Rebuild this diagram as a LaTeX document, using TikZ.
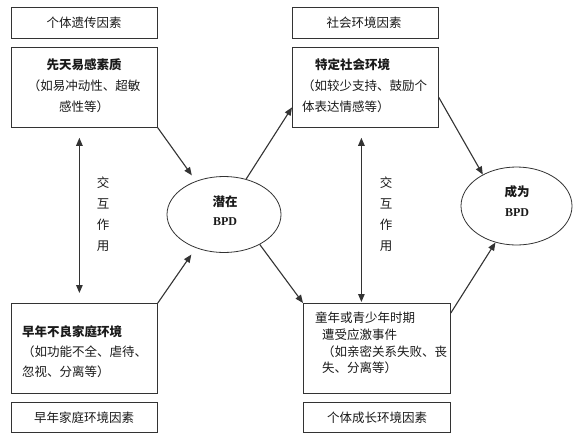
\documentclass[tikz,border=0pt]{standalone}
\usepackage{fontspec}
\setmainfont{Liberation Serif}
\newfontfamily\cjk{Noto Sans CJK SC}
\usetikzlibrary{shapes.geometric,arrows.meta}
\definecolor{ln}{HTML}{333333}
\definecolor{tx}{HTML}{1A1A1A}
\begin{document}
\begin{tikzpicture}[x=1pt,y=-1pt,
  box/.style={draw=ln,line width=0.8pt,rectangle,inner sep=0pt,anchor=north west},
  ell/.style={draw=ln,line width=0.8pt,ellipse,inner sep=0pt,minimum width=114pt,minimum height=76pt},
  txt/.style={inner sep=0pt,font=\cjk\fontsize{12.5}{21}\selectfont,text=tx},
  lat/.style={inner sep=0pt,font=\rmfamily\bfseries\fontsize{12}{14}\selectfont,text=tx},
  arr/.style={draw=ln,line width=1.1pt,-{Triangle[length=8pt,width=6.5pt]}},
  darr/.style={draw=ln,line width=1.1pt,{Triangle[length=8pt,width=6.5pt]}-{Triangle[length=8pt,width=6.5pt]}}]
\fill[white] (0,0) rectangle (580,445);
\useasboundingbox (0,0) rectangle (580,445);
% boxes
\node[box,minimum width=146pt,minimum height=31pt] (b1) at (11,7) {};
\node[box,minimum width=146pt,minimum height=80pt] (b2) at (11,47) {};
\node[box,minimum width=146pt,minimum height=31pt] (b3) at (292,7) {};
\node[box,minimum width=146pt,minimum height=80pt] (b4) at (292,47) {};
\node[box,minimum width=146pt,minimum height=90pt] (b5) at (11,303) {};
\node[box,minimum width=146pt,minimum height=30pt] (b6) at (11,402) {};
\node[box,minimum width=147pt,minimum height=90pt] (b7) at (303,303) {};
\node[box,minimum width=147pt,minimum height=30pt] (b8) at (303,402) {};
% box texts
\node[txt] (t1) at (84,23) {个体遗传因素};
\node[txt] (t3) at (364,23) {社会环境因素};
\node[txt] (t6) at (84,418) {早年家庭环境因素};
\node[txt] (t8) at (377,418) {个体成长环境因素};
\node[txt,align=center] (t2) at (84,86) {{\bfseries 先天易感素质}\\（如易冲动性、超敏\\感性等）};
\node[txt,align=left,anchor=west] (t4) at (302,86) {\hspace*{13pt}{\bfseries 特定社会环境}\\（如较少支持、鼓励个\\体表达情感等）};
\node[txt,align=left,anchor=west,font=\cjk\fontsize{12.5}{20}\selectfont] (t5) at (22,352) {{\bfseries 早年不良家庭环境}\\（如功能不全、虐待、\\忽视、分离等）};
\node[txt,align=left,anchor=west,font=\cjk\fontsize{12.5}{16.7}\selectfont] (t7) at (315,343) {童年或青少年时期\\\hspace*{7pt}遭受应激事件\\\hspace*{7pt}（如亲密关系失败、丧\\\hspace*{7pt}失、分离等）};
% interaction labels
\node[txt,align=center] (i1) at (103,214) {交\\互\\作\\用};
\node[txt,align=center] (i2) at (386,214) {交\\互\\作\\用};
% ellipses
\node[ell] (e1) at (224,214.5) {};
\node[txt] (e1a) at (225,202) {\bfseries 潜在};
\node[lat] (e1b) at (225,222) {BPD};
\node[ell,minimum width=111pt,minimum height=78pt] (e2) at (516.5,206) {};
\node[txt] (e2a) at (517,192) {\bfseries 成为};
\node[lat] (e2b) at (517,213) {BPD};
% arrows
\draw[arr,shorten >=7pt] (b2.south east) -- (e1.130);
\draw[arr,shorten >=8pt] (b5.north east) -- (e1.230);
\draw[arr] (e1.58) -- ([yshift=-20pt]b4.west);
\draw[arr] (e1.-40) -- (b7.north west);
\draw[arr] ([yshift=-10pt]b4.east) -- (e2.137);
\draw[arr] ([yshift=-10pt]b7.north east) -- (e2.240);
% interaction arrows
\coordinate (m1) at ([xshift=-5pt]b2.south);
\draw[darr,shorten <=10pt,shorten >=10pt] (m1) -- (m1 |- b5.north);
\coordinate (m2) at ([xshift=-4pt]b4.south);
\draw[darr,shorten <=10pt,shorten >=1pt] (m2) -- (m2 |- b7.north);
\end{tikzpicture}
\end{document}
